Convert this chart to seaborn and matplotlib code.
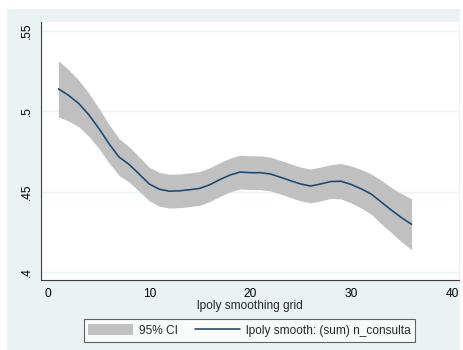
import matplotlib
matplotlib.use("Agg")
import matplotlib.pyplot as plt
import matplotlib.patches as mpatches
from matplotlib.lines import Line2D
import numpy as np
import pandas as pd
import seaborn as sns

# lpoly smoothing grid points
grid = list(range(1, 37))

# smoothed (sum) n_consulta at each grid point
smooth = [0.514, 0.510, 0.505, 0.498, 0.4895, 0.480, 0.4716, 0.467, 0.461, 0.4548,
          0.4515, 0.4503, 0.4505, 0.4512, 0.452, 0.4543, 0.4575, 0.4603, 0.4622, 0.4618,
          0.4618, 0.461, 0.459, 0.4568, 0.4548, 0.4535, 0.4548, 0.4563, 0.4565, 0.4545,
          0.4518, 0.4485, 0.4435, 0.4385, 0.4338, 0.4297]

# 95% confidence band
ci_low = [0.4965, 0.4940, 0.4905, 0.4845, 0.4770, 0.4680, 0.4601, 0.4560, 0.4503, 0.4443,
          0.4410, 0.4398, 0.4400, 0.4407, 0.4415, 0.4438, 0.4470, 0.4498, 0.4517, 0.4513,
          0.4513, 0.4505, 0.4485, 0.4463, 0.4443, 0.4430, 0.4443, 0.4458, 0.4455, 0.4430,
          0.4398, 0.4360, 0.4300, 0.4245, 0.4188, 0.4139]
ci_high = [0.5315, 0.5260, 0.5195, 0.5115, 0.5020, 0.4920, 0.4831, 0.4780, 0.4717, 0.4653,
           0.4620, 0.4608, 0.4610, 0.4617, 0.4625, 0.4648, 0.4680, 0.4708, 0.4727, 0.4723,
           0.4723, 0.4715, 0.4695, 0.4673, 0.4653, 0.4640, 0.4653, 0.4668, 0.4675, 0.4660,
           0.4638, 0.4610, 0.4570, 0.4525, 0.4488, 0.4455]

x_ticks = [0, 10, 20, 30, 40]
y_ticks = [0.4, 0.45, 0.5, 0.55]
y_tick_labels = [".4", ".45", ".5", ".55"]

df = pd.DataFrame({"grid": grid, "smooth": smooth, "lo": ci_low, "hi": ci_high})

sns.set_style("white")
plt.rcParams["font.family"] = ["Liberation Sans", "DejaVu Sans"]

BG = "#EAF2F3"
BAND = "#C0C0C0"
NAVY = "#1A476F"
AXC = "#3C3C3C"
FS = 8.6

W, H = 464, 350
fig = plt.figure(figsize=(W / 100, H / 100), dpi=100, facecolor="white")

# graph region
fig.patches.append(mpatches.Rectangle((7 / W, 0), (460.5 - 7) / W, 1 - 9 / H,
                                      transform=fig.transFigure, facecolor=BG,
                                      edgecolor="none", zorder=-10))

ax = fig.add_axes([41 / W, (H - 280) / H, (459 - 41) / W, (280 - 22) / H])
ax.set_zorder(1)
ax.set_facecolor("white")

ax.fill_between(df["grid"], df["lo"], df["hi"], color=BAND, linewidth=0, zorder=2)
sns.lineplot(data=df, x="grid", y="smooth", ax=ax, color=NAVY, linewidth=1.15,
             zorder=3, legend=False)

ax.set_xlim(-0.72, 40.7)
ax.set_ylim(0.3950, 0.5556)

ax.set_xticks(x_ticks)
ax.set_xticklabels([str(v) for v in x_ticks], fontsize=FS, color="black")
ax.set_yticks(y_ticks)
ax.set_yticklabels(y_tick_labels, fontsize=FS, rotation=90, va="center", color="black")

ax.yaxis.grid(True, color=BG, linewidth=1.0, zorder=1)
ax.xaxis.grid(False)
ax.set_axisbelow(True)

for s in ["top", "right"]:
    ax.spines[s].set_visible(False)
for s in ["left", "bottom"]:
    ax.spines[s].set_color(AXC)
    ax.spines[s].set_linewidth(0.8)

ax.tick_params(axis="both", direction="out", length=4.5, width=0.8, color=AXC, pad=1.5)
ax.tick_params(axis="x", pad=1.5)

ax.set_xlabel("lpoly smoothing grid", fontsize=FS, labelpad=0)
ax.set_ylabel("")

handles = [mpatches.Patch(facecolor=BAND, edgecolor="none"),
           Line2D([0], [0], color=NAVY, linewidth=1.15)]
labels = ["95% CI", "lpoly smooth: (sum) n_consulta"]
leg = fig.legend(handles, labels, ncol=2, loc="center",
                 bbox_to_anchor=(249.5 / W, 1 - 330.5 / H),
                 fontsize=FS, frameon=True, fancybox=False,
                 handlelength=3.77, handleheight=1.04, handletextpad=0.48,
                 columnspacing=1.42, borderpad=0.4, borderaxespad=0)
leg.get_frame().set_edgecolor(AXC)
leg.get_frame().set_linewidth(0.8)
leg.get_frame().set_facecolor("white")

fig.savefig("out.png", dpi=100, facecolor="white")
